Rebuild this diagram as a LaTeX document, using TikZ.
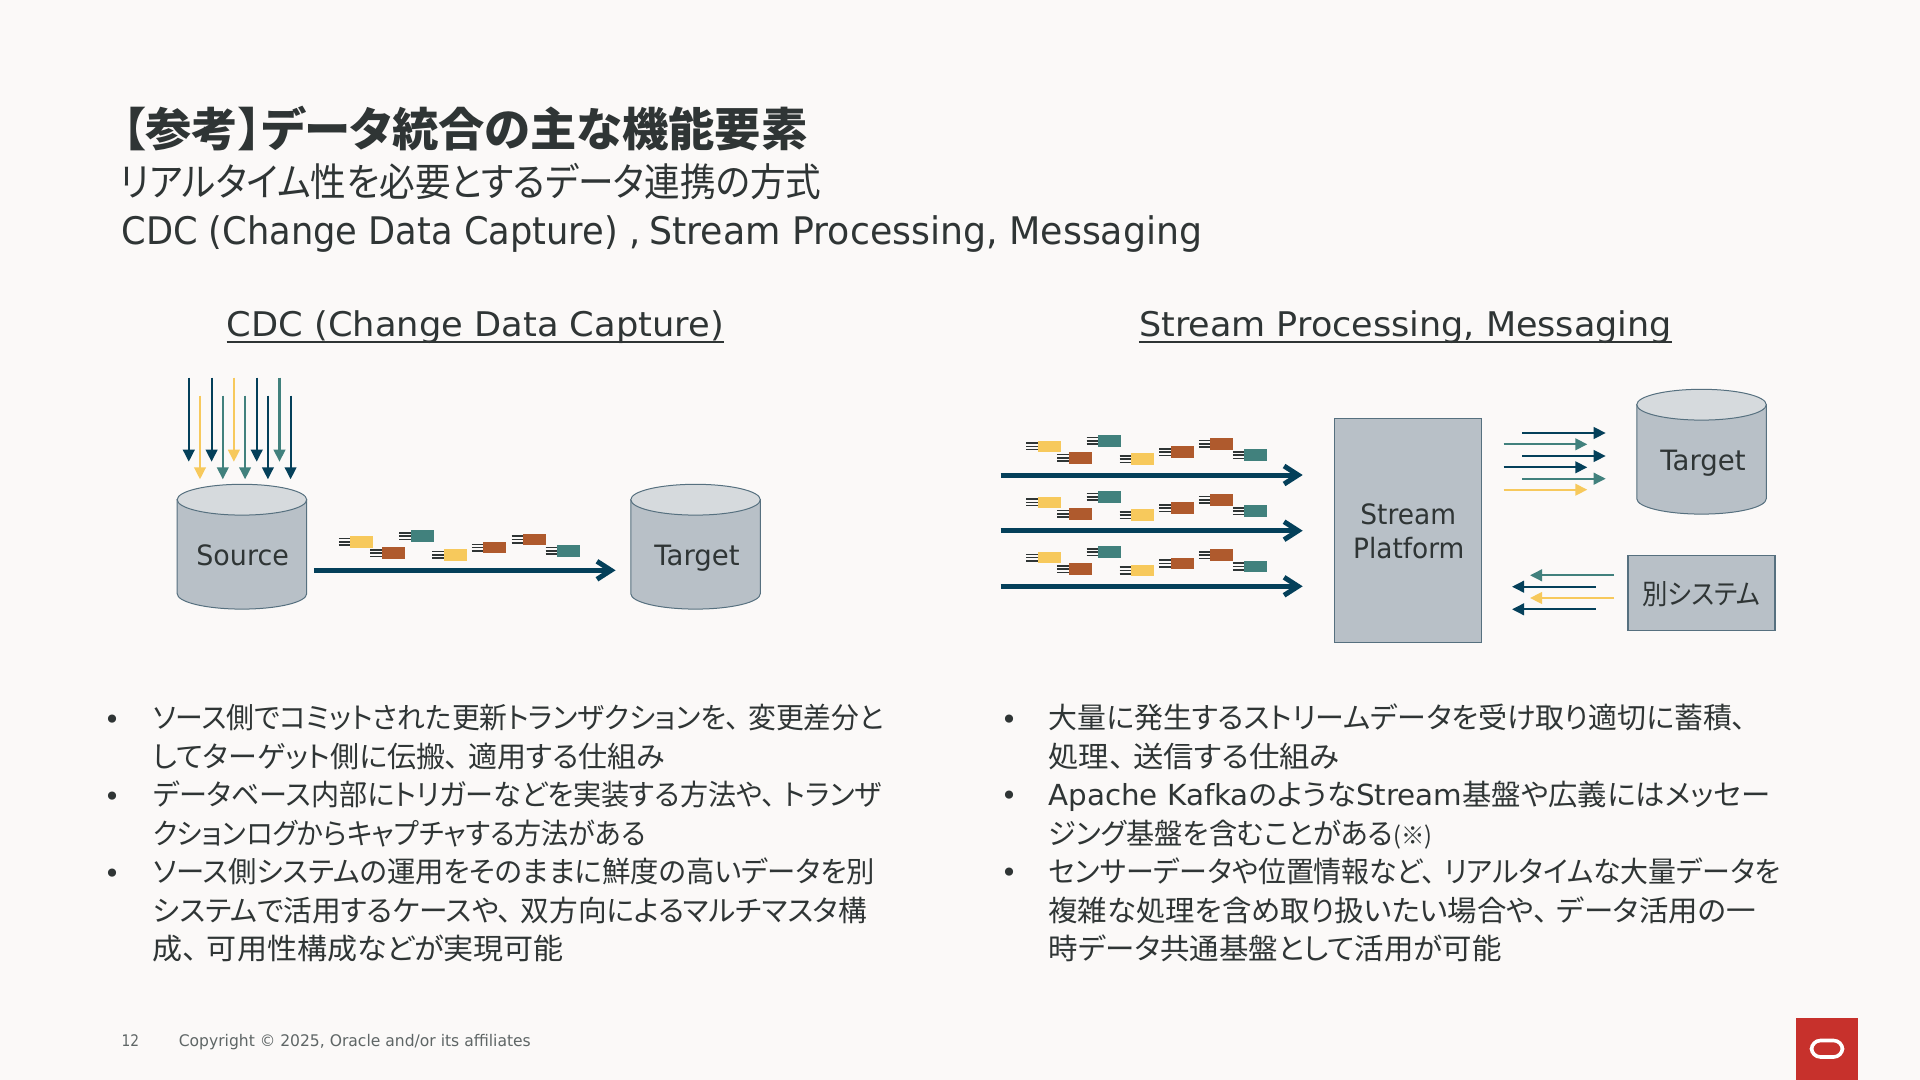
\documentclass[tikz,border=0pt]{standalone}
\usepackage{graphicx}
\usepackage{fontspec}
\usetikzlibrary{arrows.meta,calc}
\setmainfont[RawFeature=+palt]{Noto Sans CJK JP}
\newfontfamily\latf{DejaVu Sans}
\definecolor{pagebg}{HTML}{FBF9F8}
\definecolor{inkdark}{HTML}{2F3535}
\definecolor{inkgrey}{HTML}{5F6666}
\definecolor{arrdark}{HTML}{04405A}
\definecolor{arrteal}{HTML}{41817D}
\definecolor{arryell}{HTML}{F7C95C}
\definecolor{chipbrown}{HTML}{AF5A2D}
\definecolor{dbfill}{HTML}{B8C0C7}
\definecolor{dbtopfill}{HTML}{D6DADD}
\definecolor{dbline}{HTML}{56707F}
\definecolor{logored}{HTML}{C7312C}
% horizontal fit of one line of text, width in reference pixels
\newcommand{\fitw}[2]{\resizebox{\dimexpr#1pt/2\relax}{\height}{#2}}
% comma with the wider gap after it
\newcommand{\tn}{、\hspace{0.3em}}
\newcommand{\dbcyl}[3]{%
  \path[dbbody] (#1-64.75,#2) -- (#1-64.75,#3) arc[start angle=180,end angle=0,x radius=64.75,y radius=15.4] -- (#1+64.75,#2) -- cycle;
  \path[dbtop] (#1,#2) ellipse[x radius=64.75,y radius=15.4];
}
\tikzset{
  txt/.style={anchor=base west,inner sep=0pt,text=inkdark},
  bodyline/.style={txt,font=\fontsize{14.5}{14.5}\selectfont},
  bulletdot/.style={anchor=base,inner sep=0pt,text=inkdark,font=\latf\fontsize{14}{14}\selectfont},
  labeltxt/.style={txt,font=\latf\fontsize{14}{14}\selectfont},
  headtxt/.style={txt,font=\latf\fontsize{17}{17}\selectfont},
  dbbody/.style={fill=dbfill,draw=dbline,line width=0.5pt},
  dbtop/.style={fill=dbtopfill,draw=dbline,line width=0.5pt},
  boxnode/.style={fill=dbfill,draw=dbline,line width=0.6pt},
  thinarr/.style={line width=1.1pt,-{Triangle[length=6pt,width=5.8pt]}},
  bigarr/.style={arrdark,line width=2.5pt,-{Straight Barb[length=7pt,width=9pt]}},
  chipwire/.style={draw=inkdark,line width=0.8pt},
}
\begin{document}
\begin{tikzpicture}[x=0.5pt,y=-0.5pt]
  \useasboundingbox[fill=pagebg] (0,0) rectangle (1920,1080);

  % Titles
  \node[txt,font=\bfseries\fontsize{23}{23}\selectfont] (maintitle) at (122,147) {\fitw{685}{【参考】データ統合の主な機能要素}};
  \node[txt,font=\fontsize{19.5}{19.5}\selectfont] (subtitle) at (120,197) {\fitw{701}{リアルタイム性を必要とするデータ連携の方式}};
  \node[txt,font=\latf\fontsize{19}{19}\selectfont] (subline) at (121,245) {\fitw{519}{CDC (Change Data Capture) ,}\hspace{4.5pt}\fitw{553}{Stream Processing, Messaging}};

  % Column headings
  \node[headtxt] (cdchead) at (226.5,336.7) {\fitw{497}{CDC (Change Data Capture)}};
  \node[headtxt] (streamhead) at (1138.8,336.7) {\fitw{532.7}{Stream Processing, Messaging}};
  \draw[inkdark,line width=1pt] ($(cdchead.base west)+(0,5.6)$) -- ($(cdchead.base east)+(0,5.6)$);
  \draw[inkdark,line width=1pt] ($(streamhead.base west)+(0,5.6)$) -- ($(streamhead.base east)+(0,5.6)$);

  % Falling arrows above the source
  \foreach \i/\ax/\col in {1/188.8/arrdark,2/211.6/arrdark,3/233.9/arryell,4/256.7/arrdark,5/279.5/arrteal}{
    \coordinate (dnA\i) at (\ax,377.7);
    \coordinate (dnB\i) at (\ax,461.7);
    \draw[thinarr,\col] (dnA\i) -- (dnB\i);
  }
  \foreach \i/\ax/\col in {1/200/arryell,2/222.8/arrteal,3/245.1/arrteal,4/267.9/arrdark,5/290.6/arrdark}{
    \coordinate (dnC\i) at (\ax,395.7);
    \coordinate (dnD\i) at (\ax,479.3);
    \draw[thinarr,\col] (dnC\i) -- (dnD\i);
  }

  % Databases
  \dbcyl{241.95}{499.7}{593.7}
  \dbcyl{695.55}{499.7}{593.7}
  \dbcyl{1701.5}{404.7}{498.7}
  \node[labeltxt] (srclabel) at (196,565.3) {\fitw{92.4}{Source}};
  \node[labeltxt] (tgtlabel) at (654,565.3) {\fitw{85.3}{Target}};
  \node[labeltxt] (tgtlabelb) at (1660,470.7) {\fitw{85.3}{Target}};

  % Data chips
  \foreach \bx/\by in {350.4/541.8,1037.7/446.3,1037.7/502.3,1037.7/557.6}{
    \foreach \dx/\dy/\col in {0/0/arryell,31.1/11.4/chipbrown,60.5/-5.6/arrteal,93.5/12.9/arryell,133/5.8/chipbrown,172.7/-2.4/chipbrown,206.6/8.9/arrteal}{
      \fill[\col] (\bx+\dx,\by+\dy-5.8) rectangle ++(23,11.6);
      \foreach \k in {-3.3,0,3.3}
        \draw[chipwire] (\bx+\dx-11.5,\by+\dy+\k) -- ++(11.5,0);
    }
  }

  % Big arrows
  \coordinate (cdcA) at (313.8,570.3);
  \coordinate (cdcB) at (615.6,570.3);
  \draw[bigarr] (cdcA) -- (cdcB);
  \foreach \i/\ay in {1/475,2/530.7,3/586.3}{
    \coordinate (strA\i) at (1000.7,\ay);
    \coordinate (strB\i) at (1302.7,\ay);
    \draw[bigarr] (strA\i) -- (strB\i);
  }

  % Stream platform and other system
  \path[boxnode] (1334.3,418.3) rectangle (1481.7,642.7);
  \path[boxnode] (1628,555.3) rectangle (1775,630.3);
  \node[labeltxt] (platA) at (1360,524) {\fitw{95.7}{Stream}};
  \node[labeltxt] (platB) at (1352.7,558.3) {\fitw{111.3}{Platform}};
  \node[txt,font=\fontsize{14}{14}\selectfont] (othersys) at (1642,604.5) {\fitw{118}{別システム}};

  % Arrows out of and into the platform
  \foreach \i/\ax/\bx/\ay/\col in {1/1522/1605.7/433/arrdark,2/1503.7/1587.3/444.3/arrteal,3/1522/1605.7/456/arrdark,4/1503.7/1587.3/467.3/arrdark,5/1522/1605.7/478.7/arrteal,6/1503.7/1587.3/489.7/arryell,7/1614/1530/575.3/arrteal,8/1595.7/1512/586.7/arrdark,9/1614/1530/598/arryell,10/1595.7/1512/609.3/arrdark}{
    \coordinate (flowA\i) at (\ax,\ay);
    \coordinate (flowB\i) at (\bx,\ay);
    \draw[thinarr,\col] (flowA\i) -- (flowB\i);
  }

  % Left bullets
  \node[bulletdot] (blA) at (112.2,729.5) {•};
  \node[bulletdot] (blB) at (112.2,806) {•};
  \node[bulletdot] (blC) at (112.2,883) {•};
  \node[bodyline] (lineA) at (152.5,728.5) {\fitw{731}{ソース側でコミットされた更新トランザクションを\tn 変更差分と}};
  \node[bodyline] (lineB) at (152.5,767) {\fitw{512}{してターゲット側に伝搬\tn 適用する仕組み}};
  \node[bodyline] (lineC) at (152.5,805.5) {\fitw{729}{データベース内部にトリガーなどを実装する方法や\tn トランザ}};
  \node[bodyline] (lineD) at (152.5,844) {\fitw{493}{クションログからキャプチャする方法がある}};
  \node[bodyline] (lineE) at (152.5,882.5) {\fitw{722}{ソース側システムの運用をそのままに鮮度の高いデータを別}};
  \node[bodyline] (lineF) at (152.5,921) {\fitw{714}{システムで活用するケースや\tn 双方向によるマルチマスタ構}};
  \node[bodyline] (lineG) at (152.5,959.5) {\fitw{411}{成\tn 可用性構成などが実現可能}};

  % Right bullets
  \node[bulletdot] (brA) at (1009,729.5) {•};
  \node[bulletdot] (brB) at (1009,805.5) {•};
  \node[bulletdot] (brC) at (1009,882) {•};
  \node[bodyline] (rowA) at (1048.1,728.5) {\fitw{698}{大量に発生するストリームデータを受け取り適切に蓄積、}};
  \node[bodyline] (rowB) at (1048.1,767) {\fitw{291}{処理\tn 送信する仕組み}};
  \node[bodyline] (rowC) at (1048.1,805.5) {\fitw{722}{{\latf Apache Kafka}のような{\latf Stream}基盤や広義にはメッセー}};
  \node[bodyline] (rowD) at (1048.1,844) {\fitw{384}{ジング基盤を含むことがある{\fontsize{12}{12}\selectfont (※)}}};
  \node[bodyline] (rowE) at (1048.1,882.5) {\fitw{732}{センサーデータや位置情報など\tn リアルタイムな大量データを}};
  \node[bodyline] (rowF) at (1048.1,921) {\fitw{707}{複雑な処理を含め取り扱いたい場合や\tn データ活用の一}};
  \node[bodyline] (rowG) at (1048.1,959.5) {\fitw{453}{時データ共通基盤として活用が可能}};

  % Footer
  \node[txt,text=inkgrey,font=\latf\fontsize{8}{8}\selectfont] (pagenum) at (121.2,1046.7) {\fitw{17.5}{12}};
  \node[txt,text=inkgrey,font=\latf\fontsize{8}{8}\selectfont] (copyright) at (178.4,1046.7) {\fitw{352}{Copyright © 2025, Oracle and/or its affiliates}};

  % Logo
  \fill[logored] (1796,1018) rectangle (1857.7,1080);
  \draw[white,line width=1.8pt,rounded corners=4.5pt] (1811.5,1040.5) rectangle (1842.5,1057);
\end{tikzpicture}
\end{document}
